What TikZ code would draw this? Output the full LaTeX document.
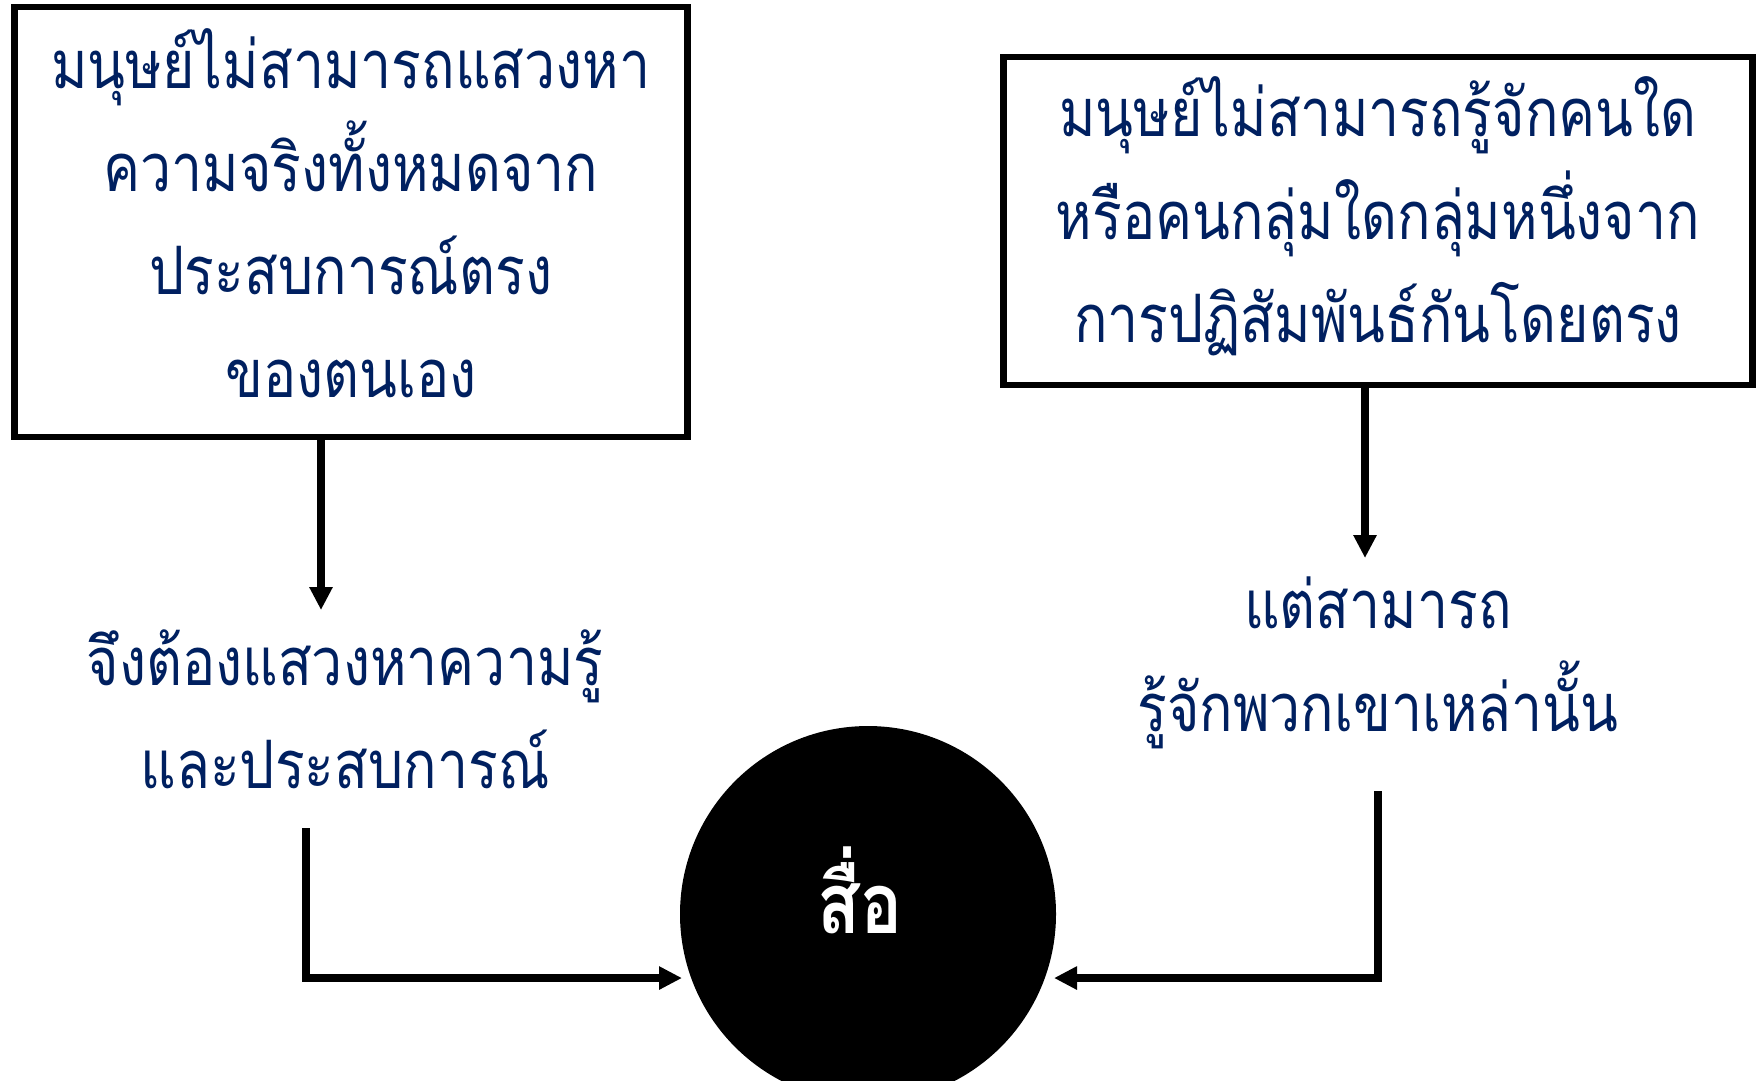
\documentclass[tikz,border=0pt]{standalone}
\usepackage{fontspec}
\newfontfamily\thaifont[Script=Thai,FakeStretch=0.83]{Loma}
\usetikzlibrary{arrows.meta,positioning}
\definecolor{navy}{HTML}{002060}

\begin{document}
\begin{tikzpicture}[
	x=0.1mm,y=-0.1mm,
	txt/.style={font=\thaifont\fontsize{19}{29.3}\selectfont,text=navy,align=center,inner sep=0pt},
	box/.style={draw,line width=1.8pt,rectangle,inner sep=0pt},
	link/.style={line width=2.1pt,-{Triangle[length=2.3mm,width=2.2mm]}}
	]
	\useasboundingbox (0,0) rectangle (1760,1080);
	
	\node[box,minimum width=673*0.1mm,minimum height=430*0.1mm] (leftbox) at (351,222) {};
	\node[txt] (lefttop) at (351,213) {มนุษย์ไม่สามารถแสวงหา\\ความจริงทั้งหมดจาก\\ประสบการณ์ตรง\\ของตนเอง};
	\node[box,minimum width=749*0.1mm,minimum height=328*0.1mm] (rightbox) at (1378,221) {};
	\node[txt] (righttop) at (1378,216) {มนุษย์ไม่สามารถรู้จักคนใด\\หรือคนกลุ่มใดกลุ่มหนึ่งจาก\\การปฏิสัมพันธ์กันโดยตรง};
	
	\node[txt] (leftmid) at (345,709) {จึงต้องแสวงหาความรู้\\และประสบการณ์};
	\node[txt] (rightmid) at (1378,663) {แต่สามารถ\\รู้จักพวกเขาเหล่านั้น};
	
	\node[circle,fill=black,minimum size=376*0.1mm,inner sep=0pt] (media) at (868,914) {};
	\node[font=\thaifont\bfseries\fontsize{24}{30}\selectfont,text=white] (medialabel) at (860,890) {สื่อ};
	
	% ลูกศร
	\coordinate (la) at (321,610);
	\coordinate (ra) at (1365,558);
	\coordinate (lb) at (306,828);
	\coordinate (lc) at (682,978);
	\coordinate (rb) at (1378,791);
	\coordinate (rc) at (1054,978);
	\draw[link] (leftbox.south -| la) -- (la);
	\draw[link] (rightbox.south -| ra) -- (ra);
	\draw[link] (lb) |- (lc);
	\draw[link] (rb) |- (rc);
	
\end{tikzpicture}
\end{document}
